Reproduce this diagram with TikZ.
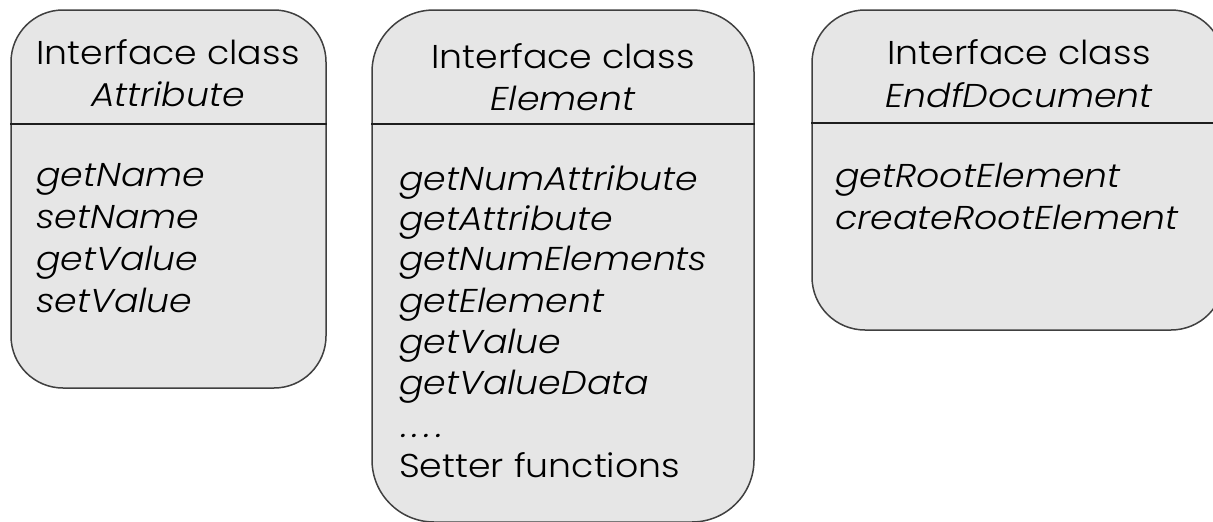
\documentclass[tikz,border=0pt]{standalone}
\usepackage{fontspec}
\setmainfont{Poppins}[UprightFont=* Light, ItalicFont=* Light Italic, FakeStretch=1.1]
\definecolor{boxfill}{RGB}{230,230,230}
\definecolor{boxline}{RGB}{64,64,64}
\definecolor{divline}{RGB}{30,30,30}
\begin{document}
\begin{tikzpicture}[x=1pt,y=-1pt,
  box/.style={draw=boxline, line width=1.5pt, fill=boxfill, inner sep=0pt},
  divider/.style={draw=divline, line width=1.5pt},
  hdr/.style={anchor=base, font=\fontsize{33}{42}\selectfont, inner sep=0pt},
  hdrit/.style={hdr, font=\fontsize{33}{42}\selectfont\itshape},
  item/.style={anchor=base west, font=\fontsize{33}{42}\selectfont\itshape, inner sep=0pt},
  itemup/.style={item, font=\fontsize{33}{42}\selectfont}]
\useasboundingbox (0,0) rectangle (1213,522);
\clip (0,0) rectangle (1213,522);
% boxes
\node[box, rounded corners=52pt, minimum width=315pt, minimum height=378pt] (attr) at (168.5,199) {};
\node[box, rounded corners=62pt, minimum width=382pt, minimum height=512pt] (elem) at (563,266) {};
\node[box, rounded corners=53pt, minimum width=412pt, minimum height=320pt] (doc) at (1018,170) {};
% dividers
\draw[divider] (attr.west |- 0,124) -- (attr.east |- 0,124);
\draw[divider] (elem.west |- 0,124) -- (elem.east |- 0,124);
\draw[divider] (doc.west |- 0,123) -- (doc.east |- 0,123);
% headers
\node[hdr]   (attrh1) at (168,64)  {Interface class};
\node[hdrit] (attrh2) at (168,106) {Attribute};
\node[hdr]   (elemh1) at (563,68)  {Interface class};
\node[hdrit] (elemh2) at (563,110) {Element};
\node[hdr]   (doch1)  at (1019,64) {Interface class};
\node[hdrit] (doch2)  at (1019,107) {EndfDocument};
% Attribute methods
\node[item] (a1) at (36,186) {getName};
\node[item] (a2) at (36,228) {setName};
\node[item] (a3) at (36,270) {getValue};
\node[item] (a4) at (36,312) {setValue};
% Element methods
\node[item] (e1) at (399,190) {getNumAttribute};
\node[item] (e2) at (399,230) {getAttribute};
\node[item] (e3) at (399,270) {getNumElements};
\node[item] (e4) at (399,312) {getElement};
\node[item] (e5) at (399,353) {getValue};
\node[item] (e6) at (399,394) {getValueData};
\node[item] (e7) at (401,437) {.\kern5pt.\kern5pt.\kern5pt.};
\node[itemup] (e8) at (399,477) {Setter functions};
% EndfDocument methods
\node[item] (d1) at (835,187) {getRootElement};
\node[item] (d2) at (835,229) {createRootElement};
\end{tikzpicture}
\end{document}
